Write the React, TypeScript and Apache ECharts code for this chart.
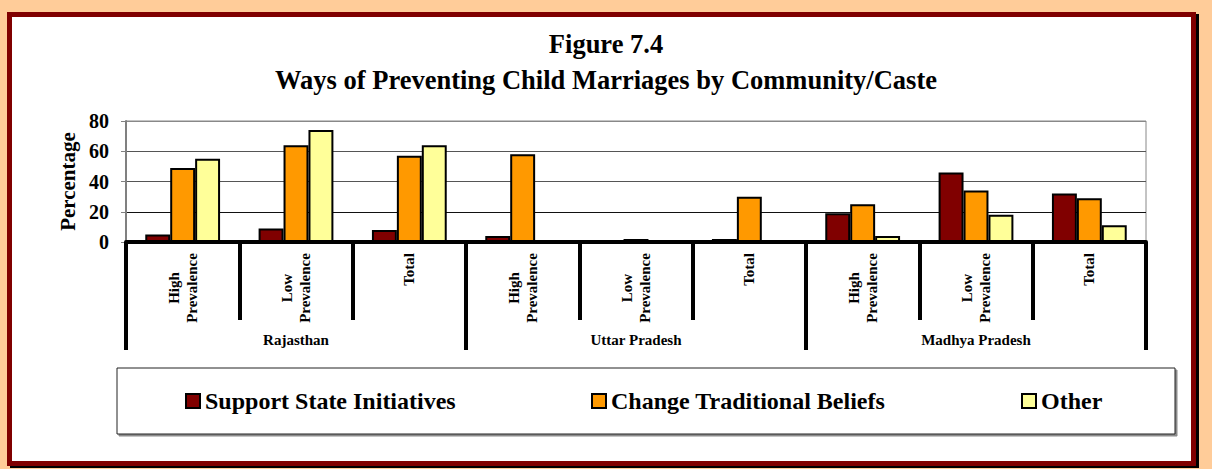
import React, { useEffect, useRef } from "react";
import * as echarts from "echarts";

const states = ["Rajasthan", "Uttar Pradesh", "Madhya Pradesh"];
const subCategories = ["High\nPrevalence", "Low\nPrevalence", "Total"];
const seriesNames = ["Support State Initiatives", "Change Traditional Beliefs", "Other"];
const supportState = [5, 9, 8, 4, 0, 2, 19, 46, 32];
const changeBeliefs = [49, 64, 57, 58, 2, 30, 25, 34, 29];
const otherWays = [55, 74, 64, 0, 0, 0, 4, 18, 11];
const yTicks = [0, 20, 40, 60, 80];
const titleLines = ["Figure 7.4", "Ways of Preventing Child Marriages by Community/Caste"];
const colors = ["#800000", "#FF9900", "#FFFF99"];

const FONT = "'Liberation Serif', 'Times New Roman', serif";

export default function App() {
  const ref = useRef<HTMLDivElement>(null);
  useEffect(() => {
    if (!ref.current) return;
    const chart = echarts.init(ref.current, null, { renderer: "svg" });
    const categories: string[] = [];
    states.forEach((s) => subCategories.forEach((c) => categories.push(s + "|" + c)));
    const values = [supportState, changeBeliefs, otherWays];
    const legendLefts = [185, 591, 1021];
    const titleTops = [30, 66];
    chart.setOption({
      animation: false,
      title: titleLines.map((t, i) => ({
        text: t,
        left: "center",
        top: titleTops[i],
        padding: 0,
        textStyle: { fontFamily: FONT, fontSize: 26.5, fontWeight: "bold", color: "#000" },
      })),
      graphic: [
        {
          type: "rect",
          z: 0,
          shape: { x: 117, y: 368, width: 1058, height: 66 },
          style: { fill: "#fff", stroke: "#222", lineWidth: 1, shadowColor: "rgba(0,0,0,0.45)", shadowOffsetX: 2, shadowOffsetY: 2, shadowBlur: 0 },
        },
      ],
      legend: seriesNames.map((n, i) => ({
        data: [n],
        left: legendLefts[i],
        top: 389,
        padding: 0,
        itemWidth: 14,
        itemHeight: 14,
        icon: "rect",
        itemStyle: { borderColor: "#000", borderWidth: 2 },
        textStyle: { fontFamily: FONT, fontSize: 24, fontWeight: "bold", color: "#000" },
      })),
      grid: {
        left: 126,
        top: 121,
        width: 1020,
        height: 121,
        show: true,
        borderColor: "#888",
        borderWidth: 1,
        backgroundColor: "transparent",
      },
      xAxis: [
        {
          type: "category",
          data: categories,
          position: "bottom",
          axisLine: { show: true, lineStyle: { color: "#000", width: 4 } },
          axisTick: { show: true, interval: 0, length: 78, lineStyle: { color: "#000", width: 4 } },
          axisLabel: {
            interval: 0,
            rotate: 90,
            margin: 11,
            fontFamily: FONT,
            fontSize: 15,
            fontWeight: "bold",
            color: "#000",
            lineHeight: 18,
            formatter: (v: string) => {
              const t = v.split("|")[1];
              if (t.indexOf("\n") >= 0) {
                return t.split("\n").map((l) => "{c|" + l + "}").join("\n");
              }
              return t;
            },
            rich: {
              c: { width: 70, align: "center", fontFamily: FONT, fontSize: 15, fontWeight: "bold", color: "#000", lineHeight: 18 },
            },
          },
          splitLine: { show: false },
        },
        {
          type: "category",
          data: states,
          position: "bottom",
          axisLine: { show: false },
          axisTick: { show: true, interval: 0, length: 108, lineStyle: { color: "#000", width: 4 } },
          axisLabel: { interval: 0, margin: 90, fontFamily: FONT, fontSize: 15, fontWeight: "bold", color: "#000" },
          splitLine: { show: false },
        },
      ],
      yAxis: {
        type: "value",
        min: yTicks[0],
        max: yTicks[yTicks.length - 1],
        interval: 20,
        name: "Percentage",
        nameLocation: "middle",
        nameRotate: 90,
        nameGap: 48,
        nameTextStyle: { fontFamily: FONT, fontSize: 21, fontWeight: "bold", color: "#000" },
        axisLine: { show: true, lineStyle: { color: "#808080", width: 2 } },
        axisTick: { show: true, length: 5, lineStyle: { color: "#808080", width: 1 } },
        axisLabel: { margin: 17, fontFamily: FONT, fontSize: 20, fontWeight: "bold", color: "#000" },
        splitLine: { show: true, lineStyle: { color: ["#000", "#111", "#555", "#555", "#888"], width: 1 } },
      },
      series: seriesNames.map((n, i) => ({
        name: n,
        type: "bar",
        xAxisIndex: 0,
        data: values[i],
        barGap: "0%",
        barCategoryGap: "34%",
        itemStyle: { color: colors[i], borderColor: "#000", borderWidth: 2 },
      })),
    });
    return () => chart.dispose();
  }, []);

  return (
    <div style={{ position: "fixed", left: 0, top: 0, width: 1212, height: 469, background: "#FFCC99", overflow: "hidden" }}>
      <div
        style={{
          position: "absolute",
          left: 7,
          top: 12,
          width: 1189,
          height: 454,
          boxSizing: "border-box",
          border: "5px solid #800000",
          background: "#fff",
          boxShadow: "3px 2px 0 #000",
        }}
      />
      <div ref={ref} style={{ position: "absolute", left: 0, top: 0, width: 1212, height: 469 }} />
    </div>
  );
}
